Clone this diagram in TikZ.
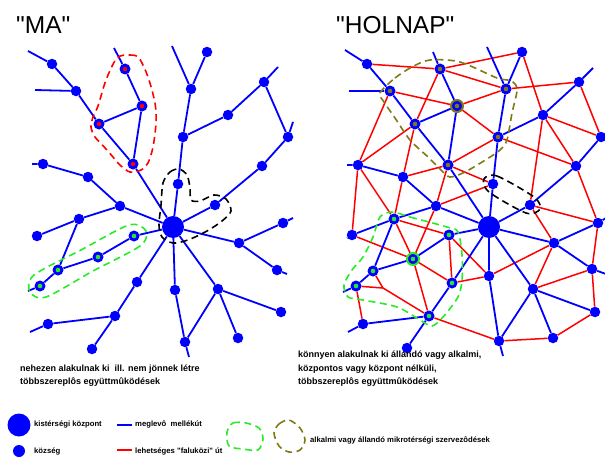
\documentclass[tikz,border=0pt]{standalone}
\usepackage{xcolor}
\usepackage{tikz}
\font\cimbetu="Liberation Sans" at 24.5pt
\font\magybetu="Liberation Sans/B" at 9pt
\font\jelbetu="Liberation Sans/B" at 7.7pt
\definecolor{olajzold}{RGB}{128,122,20}
\definecolor{elenk}{RGB}{40,235,40}
\tikzset{
  falu/.style={circle, fill=blue, inner sep=0pt, minimum size=10.5pt},
  kozpont/.style={circle, fill=blue, inner sep=0pt, minimum size=22pt},
  pfalu/.style={falu, minimum size=11pt, path picture={\fill[red] (path picture bounding box.center) circle (2.2pt);}},
  zfalu/.style={falu, minimum size=11pt, path picture={\fill[elenk] (path picture bounding box.center) circle (2.3pt);}},
  ofalu/.style={falu, minimum size=11pt, path picture={\fill[olajzold] (path picture bounding box.center) circle (2.3pt);}},
  zgyuru/.style={zfalu, minimum size=12pt, draw=elenk, line width=2pt},
  ogyuru/.style={ofalu, minimum size=12pt, draw=olajzold, line width=2pt},
  ut/.style={blue, line width=1.8pt},
  uj/.style={red, line width=1.5pt},
  korvonal/.style={line width=1.6pt, dash pattern=on 7pt off 4.5pt},
  cimfelirat/.style={anchor=base west, inner sep=0pt, font=\cimbetu},
  magyarazat/.style={anchor=base west, inner sep=0pt, align=left, font={\magybetu\baselineskip=13.3pt}},
  jelmagy/.style={anchor=base west, inner sep=0pt, font=\jelbetu}
}
\begin{document}
\begin{tikzpicture}[x=1pt,y=-1pt]
\useasboundingbox (0,0) rectangle (605,460);

\node[cimfelirat] (ma) at (16,34) {"MA"};
\node[cimfelirat] (holnap) at (336,34) {"HOLNAP"};

\node[falu] (a1) at (52,64) {};
\node[falu] (a2) at (76,91) {};
\node[pfalu] (r1) at (99,124) {};
\node[pfalu] (r2) at (125,69) {};
\node[pfalu] (r3) at (142,106) {};
\node[pfalu] (r4) at (133,164) {};
\node[falu] (b1) at (207,52) {};
\node[falu] (b2) at (191,89) {};
\node[falu] (b3) at (183,137) {};
\node[falu] (b4) at (228,115) {};
\node[falu] (b5) at (264,82) {};
\node[falu] (b6) at (288,137) {};
\node[falu] (b7) at (262,166) {};
\node[falu] (d0) at (178,184) {};
\node[falu] (d1) at (215,205) {};
\node[kozpont] (c) at (173,227) {};
\node[falu] (f0) at (43,164) {};
\node[falu] (e1) at (88,177) {};
\node[falu] (e2) at (120,206) {};
\node[falu] (e3) at (79,219) {};
\node[falu] (e4) at (37,236) {};
\node[zfalu] (g1) at (40,286) {};
\node[zfalu] (g2) at (58,270) {};
\node[zfalu] (g3) at (98,257) {};
\node[zfalu] (g4) at (134,236) {};
\node[falu] (h1) at (137,282) {};
\node[falu] (h2) at (115,316) {};
\node[falu] (h3) at (92,349) {};
\node[falu] (h4) at (48,324) {};
\node[falu] (i1) at (283,223) {};
\node[falu] (i2) at (239,243) {};
\node[falu] (i3) at (277,270) {};
\node[falu] (j1) at (175,290) {};
\node[falu] (j2) at (185,342) {};
\node[falu] (k1) at (218,289) {};
\node[falu] (k2) at (238,338) {};
\node[falu] (k3) at (281,312) {};

\coordinate (sa1) at (28,51);
\coordinate (sa2) at (35,90);
\coordinate (sr2) at (114,48);
\coordinate (sb2) at (172,46);
\coordinate (sb5) at (278,67);
\coordinate (sb6) at (293,122);
\coordinate (sf0) at (32,164);
\coordinate (sg1) at (28,291);
\coordinate (sh4) at (30,332);
\coordinate (si1) at (293,218);
\coordinate (si3) at (287,274);
\coordinate (sj2) at (189,357);

\draw[ut] (sa1) -- (a1) -- (a2) -- (r1) -- (r4) -- (c);
\draw[ut] (sa2) -- (a2);
\draw[ut] (sr2) -- (r2) -- (r3) -- (r4);
\draw[ut] (r1) -- (r3);
\draw[ut] (sb2) -- (b2) -- (b3) -- (d0) -- (c);
\draw[ut] (b1) -- (b2);
\draw[ut] (b3) -- (b4) -- (b5) -- (b6) -- (b7) -- (d1) -- (c);
\draw[ut] (sb5) -- (b5);
\draw[ut] (sb6) -- (b6);
\draw[ut] (sf0) -- (f0) -- (e1) -- (e2) -- (c);
\draw[ut] (e4) -- (e3) -- (e2);
\draw[ut] (e3) -- (g2);
\draw[ut] (sg1) -- (g1) -- (g2) -- (g3) -- (g4) -- (c);
\draw[ut] (c) -- (h1) -- (h2) -- (h3);
\draw[ut] (h2) -- (h4) -- (sh4);
\draw[ut] (c) -- (i2) -- (i1) -- (si1);
\draw[ut] (i2) -- (i3) -- (si3);
\draw[ut] (c) -- (j1) -- (j2) -- (sj2);
\draw[ut] (c) -- (k1) -- (j2);
\draw[ut] (k1) -- (k2);
\draw[ut] (k1) -- (k3);

\draw[korvonal, red] plot[smooth cycle] coordinates {(117,58) (130,55) (139,58) (148,77) (155,103) (156,123) (153,147) (148,163) (141,170) (130,172) (120,165) (107,150) (95,137) (91,127) (93,117) (98,106) (106,80)};
\draw[korvonal, black] plot[smooth cycle] coordinates {(163,183) (170,172) (179,169) (187,175) (190,188) (191,200) (200,201) (214,195) (226,199) (231,211) (222,221) (207,231) (188,240) (173,243) (162,237) (159,225) (161,205)};
\draw[korvonal, elenk] plot[smooth cycle] coordinates {(146,231) (140,246) (93,271) (46,297) (30,292) (34,275) (81,250) (129,225)};

\node[falu] (p1) at (367,64) {};
\node[ofalu] (p2) at (390,91) {};
\node[ofalu] (p3) at (440,69) {};
\node[ogyuru] (p4) at (457,106) {};
\node[ofalu] (p5) at (415,124) {};
\node[ofalu] (p6) at (448,165) {};
\node[ofalu] (p7) at (506,89) {};
\node[ofalu] (p8) at (498,137) {};
\node[falu] (q1) at (358,165) {};
\node[falu] (q2) at (403,177) {};
\node[falu] (s1) at (522,52) {};
\node[falu] (s2) at (543,115) {};
\node[falu] (s3) at (579,82) {};
\node[falu] (s4) at (601,137) {};
\node[falu] (s5) at (576,166) {};
\node[falu] (t1) at (436,206) {};
\node[kozpont] (c2) at (489,227) {};
\node[falu] (u1) at (493,184) {};
\node[falu] (u2) at (530,205) {};
\node[falu] (v1) at (598,223) {};
\node[falu] (v2) at (554,243) {};
\node[falu] (v3) at (592,269) {};
\node[falu] (v4) at (489,276) {};
\node[falu] (v5) at (533,289) {};
\node[falu] (v6) at (595,312) {};
\node[falu] (v7) at (553,338) {};
\node[falu] (v8) at (499,341) {};
\node[zfalu] (w1) at (394,219) {};
\node[zfalu] (w2) at (449,235) {};
\node[zgyuru] (w3) at (413,259) {};
\node[zfalu] (w4) at (373,271) {};
\node[zfalu] (w5) at (356,286) {};
\node[zfalu] (w6) at (452,283) {};
\node[zfalu] (w7) at (429,316) {};
\node[falu] (x1) at (352,235) {};
\node[falu] (x2) at (363,324) {};
\node[falu] (x3) at (407,348) {};

\coordinate (jn) at (383,288);
\coordinate (sp1) at (345,50);
\coordinate (sp2) at (349,91);
\coordinate (sp3) at (433,52);
\coordinate (sp7) at (487,47);
\coordinate (ss3) at (593,68);
\coordinate (sq1) at (347,165);
\coordinate (sx1) at (347,238);
\coordinate (sw5) at (343,292);
\coordinate (sx2) at (348,332);
\coordinate (sv8) at (503,356);
\coordinate (sv1) at (606,218);
\coordinate (sv3) at (606,274);

\draw[uj] (p1) -- (p3) -- (s1) -- (s2) -- (s4) -- (s3) -- (p7) -- (p3);
\draw[uj] (p2) -- (p4) -- (p7);
\draw[uj] (p4) -- (p8) -- (s5) -- (s2) -- (u2) -- (v1) -- (s5);
\draw[uj] (q1) -- (p2);
\draw[uj] (q1) -- (p5) -- (p3);
\draw[uj] (p5) -- (q2) -- (p6) -- (p8);
\draw[uj] (p6) -- (u1) -- (t1) -- (p6);
\draw[uj] (x1) -- (q1) -- (w1) -- (q2);
\draw[uj] (t1) -- (w3) -- (w1) -- (w2) -- (w6) -- (w3);
\draw[uj] (x1) -- (w3) -- (w7);
\draw[uj] (w4) -- (jn) -- (w7) -- (v8) -- (v7) -- (v6) -- (v3) -- (v1);
\draw[uj] (w5) -- (jn);
\draw[uj] (w5) -- (x2);
\draw[uj] (w2) -- (v4) -- (w6);
\draw[uj] (v4) -- (v2) -- (u2);
\draw[uj] (v2) -- (v5) -- (v3);

\draw[ut] (sp1) -- (p1) -- (p2) -- (p5) -- (p6) -- (c2);
\draw[ut] (sp2) -- (p2);
\draw[ut] (sp3) -- (p3) -- (p4) -- (p6);
\draw[ut] (p5) -- (p4);
\draw[ut] (sq1) -- (q1) -- (q2) -- (t1) -- (c2);
\draw[ut] (sp7) -- (p7) -- (p8) -- (u1) -- (c2);
\draw[ut] (s1) -- (p7);
\draw[ut] (p8) -- (s2) -- (s3) -- (ss3);
\draw[ut] (s4) -- (s5) -- (u2) -- (c2);
\draw[ut] (sx1) -- (x1) -- (w1) -- (t1);
\draw[ut] (w1) -- (w4) -- (w5) -- (sw5);
\draw[ut] (w4) -- (w3) -- (w2) -- (c2);
\draw[ut] (c2) -- (w6) -- (w7) -- (x2) -- (sx2);
\draw[ut] (w7) -- (x3);
\draw[ut] (c2) -- (v4) -- (v8) -- (sv8);
\draw[ut] (c2) -- (v5) -- (v8);
\draw[ut] (v6) -- (v5) -- (v7);
\draw[ut] (c2) -- (v2) -- (v1) -- (sv1);
\draw[ut] (v2) -- (v3) -- (sv3);

\draw[korvonal, olajzold] plot[smooth cycle] coordinates {(380,93) (395,78) (412,67) (430,60) (460,62) (497,78) (512,81) (517,90) (512,113) (507,140) (500,150) (487,159) (465,172) (450,177) (441,170) (428,157) (410,140) (395,118) (384,102)};
\draw[korvonal, black] plot[smooth cycle] coordinates {(484,179) (497,176) (534,197) (540,209) (526,213) (489,192)};
\draw[korvonal, elenk] plot[smooth cycle] coordinates {(392,212) (410,217) (447,227) (458,232) (462,255) (462,280) (458,297) (443,317) (432,326) (420,320) (397,307) (363,300) (348,297) (344,285) (352,270) (363,257) (373,237) (380,217)};

\node[magyarazat] (bal) at (20,384.5) {nehezen alakulnak ki\ \ ill. nem jönnek létre\\többszereplôs együttmûködések};
\node[magyarazat] (jobb) at (298,384.5) {könnyen alakulnak ki állandó vagy alkalmi,\\központos vagy központ nélküli,\\többszereplôs együttmûködések};

\node[kozpont, minimum size=23pt] (jk) at (19,425) {};
\node[falu, minimum size=12pt] (jf) at (19,451) {};
\node[jelmagy] at (34,426) {kistérségi központ};
\node[jelmagy] at (34,453) {község};
\draw[ut] (117,425) -- (132,425);
\draw[uj, line width=1.8pt] (117,450) -- (132,450);
\node[jelmagy] at (135,426) {meglevô\ \ mellékút};
\node[jelmagy] at (135,453) {lehetséges "faluközi" út};
\draw[korvonal, elenk] plot[smooth cycle] coordinates {(227,432) (233,423) (246,423) (259,428) (263,439) (258,450) (243,449) (229,446)};
\draw[korvonal, olajzold] plot[smooth cycle] coordinates {(274,433) (279,424) (289,420) (300,428) (305,440) (300,450) (289,452) (279,446)};
\node[jelmagy] at (310,442) {alkalmi vagy állandó mikrotérségi szervezôdések};
\end{tikzpicture}
\end{document}
